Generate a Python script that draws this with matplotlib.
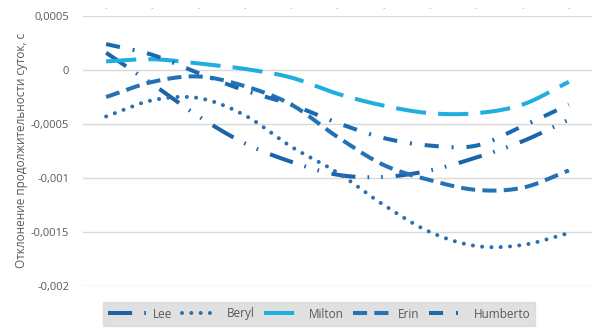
import numpy as np
import matplotlib
matplotlib.use("Agg")
import matplotlib.pyplot as plt

# ---- data ----
categories = ["-"] * 11
lee = [0.00016, -0.00013, -0.00043, -0.00068, -0.00085, -0.00097, -0.00099, -0.00093, -0.00081, -0.00066, -0.00046]
beryl = [-0.00043, -0.00028, -0.00026, -0.00042, -0.00071, -0.00095, -0.00125, -0.00150, -0.00163, -0.00162, -0.00151]
milton = [0.00008, 0.00010, 0.00006, 0.00001, -0.00007, -0.00022, -0.00033, -0.00040, -0.00040, -0.00032, -0.00011]
erin = [-0.00025, -0.00011, -0.00006, -0.00015, -0.00032, -0.00062, -0.00088, -0.00102, -0.00111, -0.00109, -0.00093]
humberto = [0.00024, 0.00014, -0.00003, -0.00019, -0.00032, -0.00049, -0.00063, -0.00070, -0.00070, -0.00052, -0.00032]
series_names = ["Lee", "Beryl", "Milton", "Erin", "Humberto"]
yticks = [0.0005, 0, -0.0005, -0.001, -0.0015, -0.002]
ytick_labels = ["0,0005", "0", "-0,0005", "-0,001", "-0,0015", "-0,002"]
ylabel = "Отклонение продолжительности суток, с"

plt.rcParams['font.family'] = ['Open Sans', 'DejaVu Sans']


def smooth(x, y, n=20):
    """Catmull-Rom spline through the points (like Excel's smoothed line)."""
    x = np.asarray(x, float)
    y = np.asarray(y, float)
    px = np.concatenate([[2 * x[0] - x[1]], x, [2 * x[-1] - x[-2]]])
    py = np.concatenate([[2 * y[0] - y[1]], y, [2 * y[-1] - y[-2]]])
    xs, ys = [], []
    t = np.linspace(0, 1, n, endpoint=False)
    for i in range(1, len(px) - 2):
        for arr, out in ((px, xs), (py, ys)):
            p0, p1, p2, p3 = arr[i - 1], arr[i], arr[i + 1], arr[i + 2]
            out.extend(0.5 * ((2 * p1) + (-p0 + p2) * t + (2 * p0 - 5 * p1 + 4 * p2 - p3) * t ** 2
                              + (-p0 + 3 * p1 - 3 * p2 + p3) * t ** 3))
    xs.append(x[-1])
    ys.append(y[-1])
    return np.array(xs), np.array(ys)


fig = plt.figure(figsize=(6.03, 3.31), dpi=100)
ax = fig.add_axes([83 / 603, 1 - 286 / 331, (592 - 83) / 603, (286 - 16) / 331])

x = np.arange(len(categories))
styles = [
    dict(color="#1c64a8", dashes=(6, 3, 0.4, 3, 0.4, 3.2)),
    dict(color="#2a70b0", dashes=(0.01, 2.3), dash_capstyle="round"),
    dict(color="#20aee0", dashes=(7.5, 3)),
    dict(color="#2372b6", dashes=(3.5, 1.8)),
    dict(color="#1a6ab0", dashes=(3.5, 3.2, 0.5, 3.2)),
]
data = [lee, beryl, milton, erin, humberto]
for name, vals, st in zip(series_names, data, styles):
    sx, sy = smooth(x, vals)
    ax.plot(sx, sy, lw=2.9, label=name, **st)

ax.set_xlim(-0.5, len(categories) - 0.5)
ax.set_ylim(-0.002, 0.0005)
ax.set_yticks(yticks)
ax.set_yticklabels(ytick_labels)
ax.set_xticks(x)
ax.set_xticklabels(categories)
ax.xaxis.tick_top()
ax.tick_params(axis="x", length=0, pad=3, labelsize=6, colors="#a6a6a6")
ax.tick_params(axis="y", length=0, pad=10, labelsize=8, colors="#595959")
ax.grid(axis="y", color="#d9d9d9", lw=1)
ax.set_axisbelow(True)
for s in ax.spines.values():
    s.set_visible(False)

fig.text(22 / 603, 1 - 150 / 331, ylabel, rotation=90, ha="center", va="center",
         fontsize=8.5, color="#595959")

leg = fig.legend(loc="center", bbox_to_anchor=(319 / 603, 1 - 314 / 331), ncol=5,
                 frameon=True, fontsize=8.5, handlelength=3.2, columnspacing=0.8,
                 handletextpad=0.6, borderpad=0.45, fancybox=False)
leg.get_frame().set_facecolor("#d9d9d9")
leg.get_frame().set_edgecolor("#d9d9d9")
for t in leg.get_texts():
    t.set_color("#595959")

fig.savefig("out.png", dpi=100)
